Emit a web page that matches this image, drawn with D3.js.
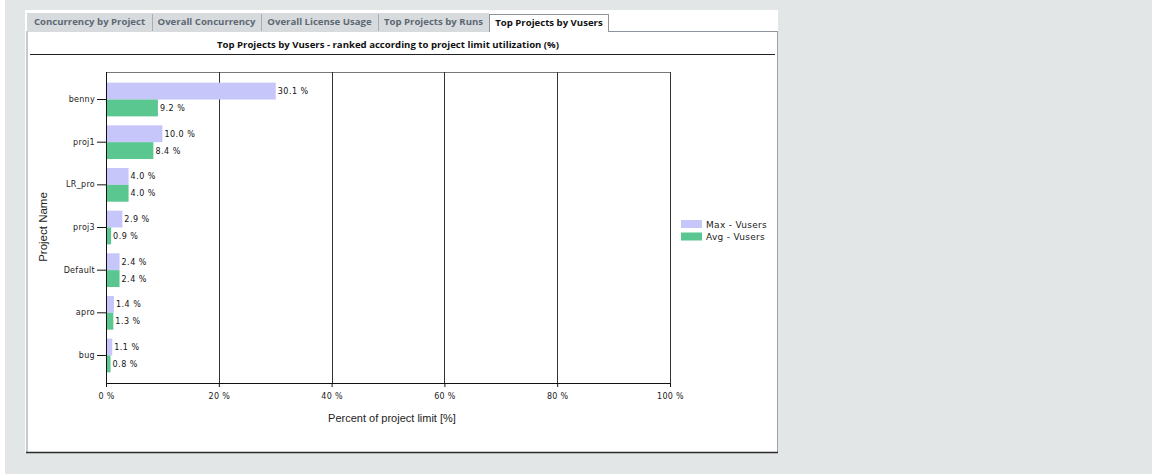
<!DOCTYPE html>
<html><head><meta charset="utf-8">
<script src="https://cdn.jsdelivr.net/npm/d3@7"></script>
<style>
html,body{margin:0;padding:0;background:#fff;}
svg{display:block;}
</style></head>
<body>
<svg id="c" width="1152" height="474"></svg>
<script>
const tabs = ["Concurrency by Project","Overall Concurrency","Overall License Usage","Top Projects by Runs","Top Projects by Vusers"];
const tabEdges = [27,152,261,378,489,609];
const categories = ["benny","proj1","LR_pro","proj3","Default","apro","bug"];
const maxVusers = [30.1,10.0,4.0,2.9,2.4,1.4,1.1];
const avgVusers = [9.2,8.4,4.0,0.9,2.4,1.3,0.8];
const seriesNames = ["Max - Vusers","Avg - Vusers"];
const xTicks = [0,20,40,60,80,100];
const title = "Top Projects by Vusers - ranked according to project limit utilization (%)";
const colors = ["#c6c6fa","#5ac690"];

const svg = d3.select("#c");
svg.append("rect").attr("x",5).attr("y",0).attr("width",1147).attr("height",474).attr("fill","#e2e6e7");
svg.append("rect").attr("x",25).attr("y",10).attr("width",753).attr("height",443).attr("fill","#fff");

// tabs
const tg = svg.append("g");
tabs.forEach((t,i)=>{
  const x0 = tabEdges[i], x1 = tabEdges[i+1];
  const active = i===tabs.length-1;
  if(active){
    tg.append("rect").attr("x",x0+0.5).attr("y",14.5).attr("width",x1-x0-1).attr("height",17).attr("fill","#fff").attr("stroke","#8d949b");
    tg.append("rect").attr("x",x0+1).attr("y",30).attr("width",x1-x0-2).attr("height",3).attr("fill","#fff");
  } else {
    tg.append("rect").attr("x",x0).attr("y",13).attr("width",x1-x0).attr("height",19).attr("fill","#d7dbde");
    if(i>0) tg.append("line").attr("x1",x0+0.5).attr("x2",x0+0.5).attr("y1",14).attr("y2",31).attr("stroke","#a7adb3");
  }
  tg.append("text").attr("x",(x0+x1)/2).attr("y",active?26:25).attr("text-anchor","middle")
    .attr("font-family","'Open Sans', sans-serif").attr("font-weight","bold").attr("font-size","9.6px")
    .attr("fill",active?"#111":"#5d6874").text(t);
});
// panel borders
svg.append("line").attr("x1",609).attr("x2",777.5).attr("y1",31.5).attr("y2",31.5).attr("stroke","#8d949b");
svg.append("line").attr("x1",777.5).attr("x2",777.5).attr("y1",31).attr("y2",453).attr("stroke","#9ca2a8");
svg.append("rect").attr("x",26).attr("y",31).attr("width",2).attr("height",422).attr("fill","#c5cacf");
svg.append("line").attr("x1",26).attr("x2",778).attr("y1",452.5).attr("y2",452.5).attr("stroke","#2a2a2a").attr("stroke-width",1.5);

// title
svg.append("text").attr("x",388).attr("y",48).attr("text-anchor","middle")
  .attr("font-family","'Open Sans', sans-serif").attr("font-weight","bold").attr("font-size","9.6px")
  .attr("fill","#111").text(title);
svg.append("line").attr("x1",30).attr("x2",775).attr("y1",54.5).attr("y2",54.5).attr("stroke","#222");

// plot
const L=106, R=670, T=72, B=383;
const x = d3.scaleLinear().domain([0,100]).range([L,R]);
const y = d3.scaleBand().domain(categories).range([T,B]).paddingInner(0.21).paddingOuter(0.25);
const ys = d3.scaleBand().domain(seriesNames).range([0,y.bandwidth()]);

const g = svg.append("g");
g.append("line").attr("x1",L).attr("x2",R).attr("y1",T+0.5).attr("y2",T+0.5).attr("stroke","#777");
// grid
g.selectAll("line.grid").data(xTicks.slice(1)).join("line").attr("class","grid")
  .attr("x1",d=>Math.round(x(d))+0.5).attr("x2",d=>Math.round(x(d))+0.5).attr("y1",T).attr("y2",B)
  .attr("stroke","#333");

const data = categories.map((c,i)=>({c, vals:[maxVusers[i],avgVusers[i]]}));
const grp = g.selectAll("g.cat").data(data).join("g").attr("class","cat")
  .attr("transform",d=>`translate(0,${y(d.c)})`);
grp.selectAll("rect").data(d=>d.vals.map((v,k)=>({v,k}))).join("rect")
  .attr("x",x(0)).attr("y",d=>ys(seriesNames[d.k])).attr("width",d=>x(d.v)-x(0))
  .attr("height",ys.bandwidth()).attr("fill",d=>colors[d.k]);
grp.selectAll("text").data(d=>d.vals.map((v,k)=>({v,k}))).join("text")
  .attr("x",d=>x(d.v)+2).attr("y",d=>ys(seriesNames[d.k])+ys.bandwidth()/2+3)
  .attr("font-family","'DejaVu Sans', sans-serif").attr("font-size","8px").attr("letter-spacing","0.5px")
  .attr("fill","#111").text(d=>d.v.toFixed(1)+" %");

// y axis
const ya = g.append("g").attr("transform",`translate(${L},0)`).call(d3.axisLeft(y).tickSize(9).tickPadding(2));
ya.select(".domain").attr("stroke","#111").attr("d",`M0.5,${T}V${B}`);
ya.selectAll(".tick line").attr("stroke","#111");
ya.selectAll(".tick text").attr("font-family","'DejaVu Sans', sans-serif").attr("font-size","8px").attr("letter-spacing","0.3px").attr("fill","#222");

// x axis
const xa = g.append("g").attr("transform",`translate(0,${B})`).call(d3.axisBottom(x).tickValues(xTicks).tickFormat(d=>d+" %").tickSize(4).tickPadding(6));
xa.select(".domain").attr("stroke","#111").attr("d",`M${L},0.5H${R}`);
xa.selectAll(".tick line").attr("stroke","#111");
xa.selectAll(".tick text").attr("font-family","'DejaVu Sans', sans-serif").attr("font-size","8px").attr("letter-spacing","0.3px").attr("fill","#222");

// axis titles
svg.append("text").attr("transform","translate(47,227) rotate(-90)").attr("text-anchor","middle")
  .attr("font-family","'Liberation Sans', Arial, sans-serif").attr("font-size","11.5px").attr("fill","#222").text("Project Name");
svg.append("text").attr("x",392).attr("y",422).attr("text-anchor","middle")
  .attr("font-family","'Liberation Sans', Arial, sans-serif").attr("font-size","11px").attr("fill","#222").text("Percent of project limit [%]");

// legend
const lg = svg.append("g").attr("transform","translate(681,220)");
seriesNames.forEach((s,i)=>{
  lg.append("rect").attr("x",0).attr("y",i*12.5).attr("width",21).attr("height",8).attr("fill",colors[i]);
  lg.append("text").attr("x",25).attr("y",i*12.5+7.5).attr("font-family","'DejaVu Sans', sans-serif")
    .attr("font-size","9px").attr("letter-spacing","0.3px").attr("fill","#222").text(s);
});
</script>
</body></html>
